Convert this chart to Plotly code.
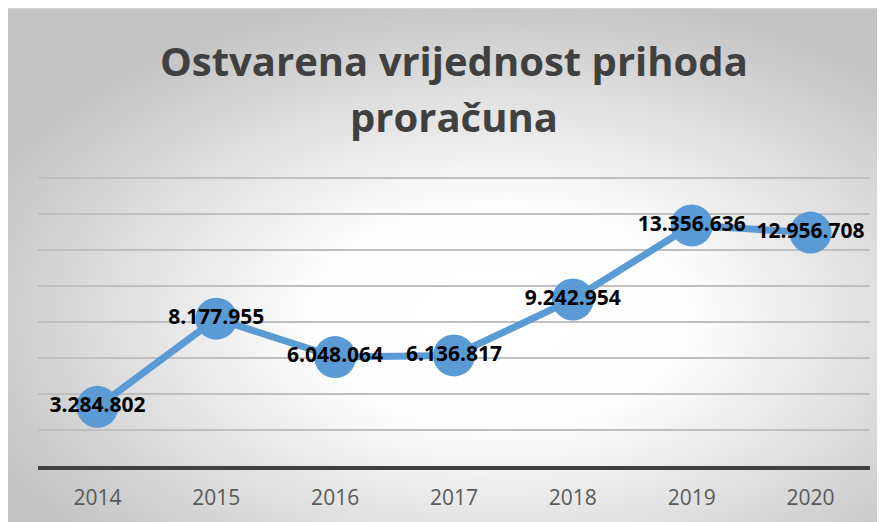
import plotly.graph_objects as go
import urllib.parse

years = ["2014", "2015", "2016", "2017", "2018", "2019", "2020"]
values = [3284802, 8177955, 6048064, 6136817, 9242954, 13356636, 12956708]
labels = ["3.284.802", "8.177.955", "6.048.064", "6.136.817", "9.242.954", "13.356.636", "12.956.708"]
title_lines = ["Ostvarena vrijednost prihoda", "proračuna"]

# page body has an 8px margin, so the figure covers the window from (8, 8)
W, H = 877, 514
ml, mr, mt, mb = 30, 15, 168, 56
pw, ph = W - ml - mr, H - mt - mb

svg = (
    f"<svg xmlns='http://www.w3.org/2000/svg' width='{W}' height='{H}' preserveAspectRatio='none'>"
    "<defs><radialGradient id='g' cx='0.56' cy='0.6' r='0.64'>"
    "<stop offset='0' stop-color='#ffffff'/>"
    "<stop offset='0.33' stop-color='#fefefe'/>"
    "<stop offset='1' stop-color='#c3c3c3'/>"
    "</radialGradient></defs>"
    f"<rect width='{W}' height='{H}' fill='url(#g)'/>"
    f"<line x1='0' y1='0.5' x2='{W}' y2='0.5' stroke='#d0d0d0' stroke-width='1'/>"
    "</svg>"
)
src = "data:image/svg+xml;charset=utf-8," + urllib.parse.quote(svg)

fig = go.Figure()
fig.add_trace(go.Scatter(
    x=years, y=values, mode="lines+markers+text",
    line=dict(color="#5b9bd5", width=7),
    marker=dict(size=42, color="#5b9bd5"),
    text=labels, textposition="middle center",
    textfont=dict(family="Open Sans", size=21, color="#000000", weight="bold"),
    cliponaxis=False, hoverinfo="skip",
))

fig.add_layout_image(dict(
    source=src, xref="paper", yref="paper",
    x=-ml / pw, y=(H - mb) / ph,
    sizex=W / pw, sizey=H / ph,
    xanchor="left", yanchor="top", sizing="stretch", layer="below",
))

def py(y_px):
    return (H - mb - y_px) / ph

fig.add_annotation(text=title_lines[0], xref="paper", yref="paper",
                   x=(446 - ml) / pw, y=py(52), xanchor="center", yanchor="middle",
                   showarrow=False,
                   font=dict(family="Open Sans", size=40, color="#404040", weight="bold"))
fig.add_annotation(text=title_lines[1], xref="paper", yref="paper",
                   x=(446 - ml) / pw, y=py(109), xanchor="center", yanchor="middle",
                   showarrow=False,
                   font=dict(family="Open Sans", size=40, color="#404040", weight="bold"))

fig.update_layout(
    width=W, height=H,
    margin=dict(l=ml, r=mr, t=mt, b=mb, autoexpand=False),
    paper_bgcolor="#ffffff", plot_bgcolor="rgba(0,0,0,0)",
    showlegend=False,
    xaxis=dict(type="category", range=[-0.5, 6.5], showgrid=False, zeroline=False,
               showline=True, linecolor="#404040", linewidth=4, automargin=False,
               ticks="", ticklabelstandoff=10,
               tickfont=dict(family="Open Sans", size=21, color="#595959")),
    yaxis=dict(range=[0, 16100000], dtick=2000000, showgrid=True, gridcolor="#bfbfbf",
               gridwidth=1.5, zeroline=False, showticklabels=False, showline=False,
               automargin=False),
)

fig.write_html("out.html")
